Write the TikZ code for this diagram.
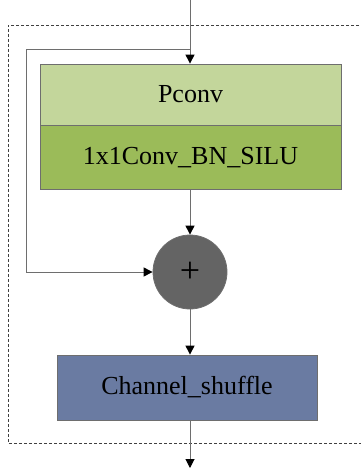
\documentclass[tikz,border=0pt]{standalone}
\usepackage{fontspec}
\setmainfont{Liberation Serif}
\usetikzlibrary{arrows.meta}
\definecolor{pconvfill}{HTML}{C3D69B}
\definecolor{convfill}{HTML}{9BBB59}
\definecolor{addfill}{HTML}{646464}
\definecolor{shufflefill}{HTML}{6A7BA2}
\definecolor{edgegray}{HTML}{6E6E6E}
\tikzset{
  blockbox/.style={draw=edgegray, line width=0.8pt, rectangle, inner sep=0pt,
    font=\fontsize{26}{30}\selectfont, text=black},
  flow/.style={draw=edgegray, line width=1pt, -{Triangle[length=9pt,width=9pt,fill=black,color=black]}},
  frame/.style={draw=black!75, line width=0.7pt, dash pattern=on 3pt off 2pt}
}
\begin{document}
\begin{tikzpicture}[x=1pt,y=-1pt]
\useasboundingbox (0,0) rectangle (360,468);
% dashed module frame (right side runs past the page edge)
\draw[frame] (364,25) -- (8,25) -- (8,443) -- (364,443);
% blocks
\node[blockbox, fill=pconvfill, minimum width=301pt, minimum height=61pt] (pconv) at (190.5,94.5) {Pconv};
\node[blockbox, fill=convfill, minimum width=301pt, minimum height=64pt, anchor=north] (conv) at (pconv.south) {1x1Conv\_BN\_SILU};
\node[circle, draw=edgegray, line width=0.8pt, fill=addfill, minimum size=74pt, inner sep=0pt,
  font=\fontsize{36}{40}\selectfont] (add) at (190,272) {+};
\node[blockbox, fill=shufflefill, minimum width=260pt, minimum height=65pt] (shuffle) at (187,387.5) {Channel\_shuffle};
% connectors
\coordinate (in) at (190,0);
\coordinate (split) at (190,50);
\coordinate (out) at (190,468);
\draw[flow] (in) -- (in |- pconv.north);
\draw[flow] (split) -- (26,50) -- (26,272) -- (add.west);
\draw[flow] (add.north |- conv.south) -- (add.north);
\draw[flow] (add.south) -- (add.south |- shuffle.north);
\draw[flow] (out |- shuffle.south) -- (out);
\end{tikzpicture}
\end{document}
